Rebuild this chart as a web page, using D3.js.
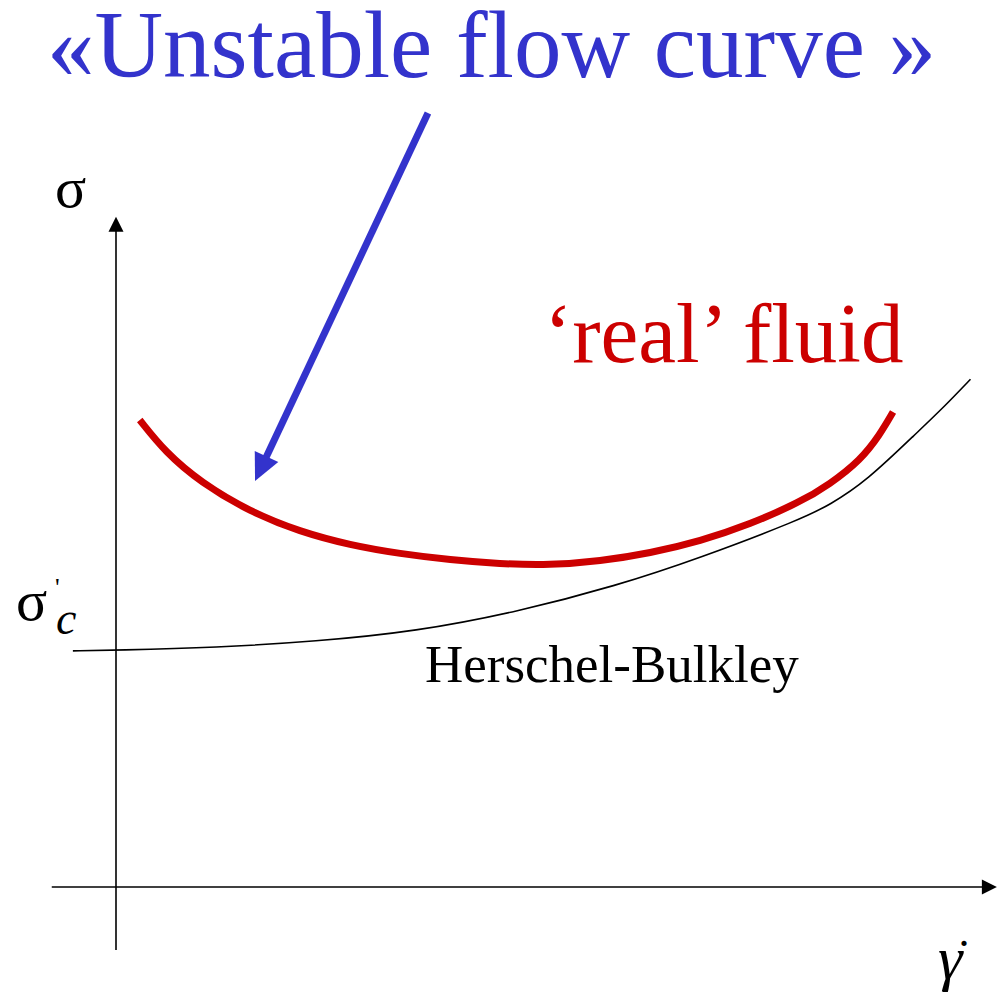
<!DOCTYPE html>
<html>
<head>
<meta charset="utf-8">
<script src="https://d3js.org/d3.v7.min.js"></script>
<style>
  body { margin: 0; background: #fff; }
  text { font-family: "Liberation Serif", "Times New Roman", serif; }
</style>
</head>
<body>
<script>
// schematic flow curves, in arbitrary units (shear rate, stress)
const hbGamma   = [-0.49, 0, 1.14, 2.27, 3.41, 4.55, 5.68, 6.64, 7.77, 8.11, 8.53, 9.10, 9.42, 9.71];
const hbSigma   = [3.53, 3.54, 3.58, 3.67, 3.82, 4.11, 4.50, 4.92, 5.49, 5.71, 6.07, 6.79, 7.19, 7.59];
const realGamma = [0.27, 0.56, 0.96, 1.52, 2.09, 2.66, 3.23, 3.80, 4.36, 4.93, 5.50, 6.07, 6.64, 7.20, 7.77, 8.11, 8.46, 8.68, 8.83];
const realSigma = [6.98, 6.50, 6.05, 5.61, 5.31, 5.11, 4.98, 4.89, 4.83, 4.81, 4.87, 4.99, 5.17, 5.42, 5.75, 6.02, 6.38, 6.76, 7.10];
// annotation arrow, start and tip
const arrowGamma = [3.545, 1.58];
const arrowSigma = [11.57, 6.07];
// axis extents
const xAxisRange = [-0.73, 10.01];
const yAxisRange = [-0.94, 10.02];

let width = 1005, height = 1004;

let svg = d3.select("body").append("svg")
    .attr("width", width)
    .attr("height", height);

let x = d3.scaleLinear().domain([0, 10]).range([116, 996]);
let y = d3.scaleLinear().domain([0, 10]).range([887, 218]);

// arrow helper: line plus a filled triangular head
function arrow(x1, y1, x2, y2, color, lw, headLen, headHalf) {
    let dx = x2 - x1, dy = y2 - y1;
    let len = Math.sqrt(dx*dx + dy*dy);
    let ux = dx/len, uy = dy/len;
    let bx = x2 - ux*headLen, by = y2 - uy*headLen;
    svg.append("line")
        .attr("x1", x1).attr("y1", y1)
        .attr("x2", bx + ux*2).attr("y2", by + uy*2)
        .style("stroke", color)
        .style("stroke-width", lw);
    svg.append("polygon")
        .attr("points", [[x2, y2], [bx - uy*headHalf, by + ux*headHalf], [bx + uy*headHalf, by - ux*headHalf]].map(p => p.join(",")).join(" "))
        .style("fill", color);
}

// axes
arrow(x(xAxisRange[0]), y(0), x(xAxisRange[1]), y(0), "#000", 1.6, 15, 7.5);
arrow(x(0), y(yAxisRange[0]), x(0), y(yAxisRange[1]), "#000", 1.6, 15, 7.5);

let line = d3.line()
    .x(d => x(d[0]))
    .y(d => y(d[1]))
    .curve(d3.curveBasis);

// Herschel-Bulkley curve
svg.append("path")
    .datum(hbGamma.map((g, i) => [g, hbSigma[i]]))
    .attr("d", line)
    .style("fill", "none")
    .style("stroke", "#000")
    .style("stroke-width", 1.6);

// 'real' fluid curve
svg.append("path")
    .datum(realGamma.map((g, i) => [g, realSigma[i]]))
    .attr("d", line)
    .style("fill", "none")
    .style("stroke", "#cc0000")
    .style("stroke-width", 7);

// blue annotation arrow
arrow(x(arrowGamma[0]), y(arrowSigma[0]), x(arrowGamma[1]), y(arrowSigma[1]), "#3333cc", 7, 27, 13);

// texts
svg.append("text")
    .attr("x", 47).attr("y", 77)
    .style("font-size", "95px")
    .style("fill", "#3333cc")
    .text("«Unstable flow curve »");

svg.append("text")
    .attr("x", 544).attr("y", 362)
    .style("font-size", "85px")
    .style("fill", "#cc0000")
    .text("‘real’ fluid");

svg.append("text")
    .attr("x", 425).attr("y", 682)
    .style("font-size", "53px")
    .style("fill", "#000")
    .text("Herschel-Bulkley");

// axis labels
svg.append("text")
    .attr("x", 55).attr("y", 207)
    .style("font-size", "58px")
    .text("σ");

svg.append("text")
    .attr("x", 16).attr("y", 620)
    .style("font-size", "58px")
    .text("σ");
svg.append("text")
    .attr("x", 55).attr("y", 596)
    .style("font-size", "26px")
    .text("'");
svg.append("text")
    .attr("x", 56).attr("y", 634)
    .style("font-size", "46px")
    .style("font-style", "italic")
    .text("c");

svg.append("text")
    .attr("x", 938).attr("y", 979)
    .style("font-size", "62px")
    .style("font-style", "italic")
    .text("γ");
svg.append("text")
    .attr("x", 964).attr("y", 946)
    .attr("text-anchor", "middle")
    .style("font-size", "44px")
    .text(".");
</script>
</body>
</html>
